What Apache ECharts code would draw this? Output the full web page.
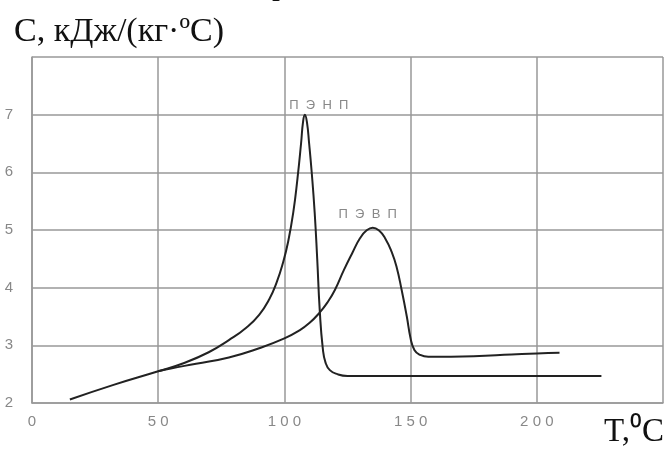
<!DOCTYPE html>
<html><head><meta charset="utf-8">
<script src="https://cdn.jsdelivr.net/npm/echarts@6/dist/echarts.min.js"></script>
<style>html,body{margin:0;padding:0;background:#fff}#c{width:666px;height:449px}</style>
</head><body><div id="c"></div>
<script>
// Data
const xTicks = [0, 50, 100, 150, 200, 250];
const yTicks = [2, 3, 4, 5, 6, 7, 8];
const ldpeName = 'П  Э  Н  П';
const hdpeName = 'П  Э  В  П';
const ldpeT = [15, 32, 50, 60, 70, 78, 85, 90, 94, 97, 99.5, 101.5, 103.5, 105.2, 106.6, 107.4, 108.1, 108.9, 109.8, 110.8, 112, 113, 114, 115.2, 116.3, 118, 121, 125, 150, 200, 225.6];
const ldpeC = [2.06, 2.31, 2.55, 2.69, 2.88, 3.09, 3.31, 3.53, 3.8, 4.1, 4.44, 4.8, 5.3, 5.9, 6.5, 6.88, 7.0, 6.88, 6.5, 6.01, 5.3, 4.5, 3.61, 2.95, 2.7, 2.57, 2.5, 2.47, 2.47, 2.47, 2.47];
const hdpeT = [50, 55, 65, 78, 90, 100, 106, 110, 114, 117, 120, 123.5, 127, 130, 132.5, 135, 137.5, 140, 142.5, 144.5, 146.5, 148.5, 150, 151.5, 153.5, 157, 175, 190, 200, 209];
const hdpeC = [2.55, 2.6, 2.68, 2.79, 2.95, 3.12, 3.26, 3.39, 3.57, 3.74, 3.96, 4.3, 4.61, 4.86, 4.99, 5.04, 4.99, 4.85, 4.62, 4.35, 3.95, 3.5, 3.12, 2.92, 2.84, 2.8, 2.81, 2.84, 2.86, 2.87];

const zip = (a, b) => a.map((v, i) => [v, b[i]]);
const spaced = v => String(v).split('').join(' ');
const lblFont = "'Liberation Sans',sans-serif";
const chart = echarts.init(document.getElementById('c'), null, {renderer: 'canvas'});
const lineStyle = {color: '#222', width: 2};
const gridLine = {show: true, lineStyle: {color: '#999', width: 1.5}};
chart.setOption({
  animation: false,
  grid: {left: 32, top: 57, right: 1, bottom: 46, containLabel: false},
  xAxis: {
    type: 'value', min: xTicks[0], max: xTicks[xTicks.length - 1], interval: 50,
    axisLine: {show: true, lineStyle: {color: '#999', width: 1.5}},
    axisTick: {show: false},
    splitLine: gridLine,
    axisLabel: {color: '#888', fontFamily: lblFont, fontSize: 15, margin: 11,
      formatter: v => (v === 250 ? '' : spaced(v))}
  },
  yAxis: {
    type: 'value', min: yTicks[0], max: yTicks[yTicks.length - 1], interval: 1,
    axisLine: {show: true, lineStyle: {color: '#999', width: 1.5}},
    axisTick: {show: false},
    splitLine: gridLine,
    axisLabel: {color: '#888', fontFamily: lblFont, fontSize: 15, margin: 19,
      formatter: v => (v === 8 ? '' : spaced(v))}
  },
  series: [
    {type: 'line', name: ldpeName, data: zip(ldpeT, ldpeC), showSymbol: false, smooth: 0.5,
      lineStyle: lineStyle,
      markPoint: {symbol: 'circle', symbolSize: 0, silent: true,
        data: [{type: 'max', name: ldpeName}],
        label: {show: true, position: 'inside', offset: [14, -9], formatter: ldpeName,
          color: '#888', fontFamily: lblFont, fontSize: 13}}},
    {type: 'line', name: hdpeName, data: zip(hdpeT, hdpeC), showSymbol: false, smooth: 0.5,
      lineStyle: lineStyle,
      markPoint: {symbol: 'circle', symbolSize: 0, silent: true,
        data: [{type: 'max', name: hdpeName}],
        label: {show: true, position: 'inside', offset: [-5, -13], formatter: hdpeName,
          color: '#888', fontFamily: lblFont, fontSize: 13}}}
  ],
  graphic: [
    {type: 'text', left: 14, top: 15, style: {text: 'С, кДж/(кг·ºС)', fill: '#111', font: "34px 'Liberation Serif', serif"}},
    {type: 'text', right: 2, top: 416, style: {text: 'T,⁰C', fill: '#111', font: "33px 'Liberation Serif', serif"}},
    {type: 'text', left: 272, top: -30, style: {text: 'р', fill: '#111', font: "32px 'Liberation Serif', serif"}}
  ]
});
</script></body></html>
